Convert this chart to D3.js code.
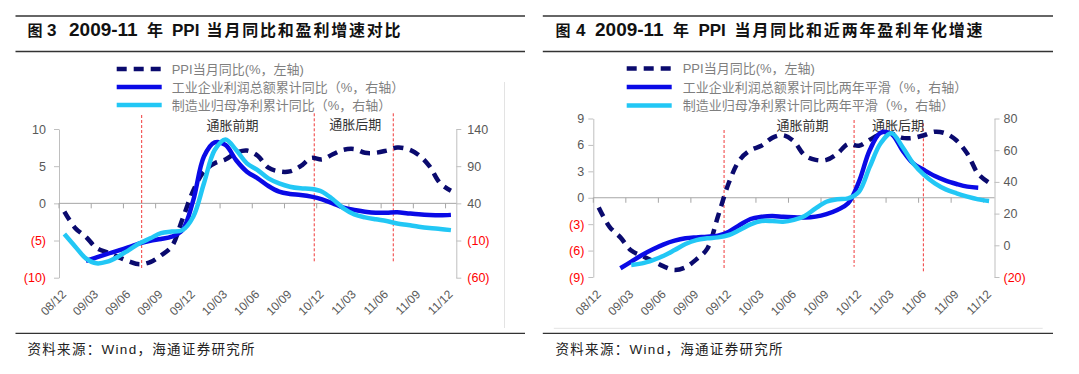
<!DOCTYPE html>
<html><head><meta charset="utf-8">
<script src="https://cdn.jsdelivr.net/npm/d3@7"></script>
<style>
body{margin:0;background:#fff;}
svg text{font-family:"Liberation Sans", Arial, "Noto Sans CJK SC", sans-serif;}
</style></head><body>
<svg id="c" width="1079" height="374"></svg>
<script>
// ---------------- DATA ----------------
const months = ["08/12","09/01","09/02","09/03","09/04","09/05","09/06","09/07","09/08","09/09","09/10","09/11","09/12",
  "10/01","10/02","10/03","10/04","10/05","10/06","10/07","10/08","10/09","10/10","10/11","10/12",
  "11/01","11/02","11/03","11/04","11/05","11/06","11/07","11/08","11/09","11/10","11/11","11/12"];
const tickLabels = ["08/12","09/03","09/06","09/09","09/12","10/03","10/06","10/09","10/12","11/03","11/06","11/09","11/12"];

// PPI YoY (%, left axis) - both charts
const ppi = [-1.1,-3.3,-4.5,-6.0,-6.6,-7.2,-7.8,-8.2,-7.9,-7.0,-5.8,-2.1,1.7,
  4.3,5.4,5.9,6.8,7.1,6.4,4.8,4.3,4.3,5.0,6.1,5.9,
  6.6,7.2,7.3,6.8,6.8,7.1,7.5,7.3,6.5,5.0,2.7,1.7];
// Fig 3 (right axis)
const profitYoY = [null,null,-37.5,-32.6,-28,-23.7,-19,-13.8,-10.2,-8,-4.8,4,44,
  103,122,118.5,98,82.6,73.6,63.3,55.7,52.6,51.2,49,45.4,
  40,34.2,31,28.8,27.4,27.4,27.9,26.5,25.2,24.3,23.9,24.5];
const mfgNetYoY = [-1.3,-18,-34,-40.7,-38.5,-31.7,-22.8,-13.8,-7,0,2,4,22,
  67,111.7,126,111.7,93.8,84.8,73.6,66.9,62.4,60.2,59.3,55.7,
  45.4,33.3,25.2,21.2,18.5,16.2,13,10.9,8.6,6.8,5.5,4];
// Fig 4 (right axis)
const profit2Y = [null,null,-14.5,-10.3,-6.1,-2.5,0.6,2.9,4.4,5,5.4,6.1,8.6,
  12.8,16.6,18,18.5,18,17.7,17.5,18.1,19.7,22.3,26.5,40.1,
  60.1,71,70.2,60.1,51.7,47.5,43.7,40.8,38.7,37,36.3,null];
const mfgNet2Y = [null,null,null,-12.4,-11.4,-9.3,-6.6,-3,0.8,3.3,4.4,5,6.5,
  9.7,13.2,15.3,15.3,14.9,16,18.5,23.3,27.5,29,29.6,33.8,
  49.6,64.4,70.7,62.2,51.7,44.4,39.1,35.3,32.8,30.7,29,28];

const leftTicksA = [10,5,0,-5,-10];
const rightTicksA = [140,90,40,-10,-60];
const leftTicksB = [9,6,3,0,-3,-6,-9];
const rightTicksB = [80,60,40,20,0,-20];
const phaseLabels = ["通胀前期","通胀后期"];
const legendA = ["PPI当月同比(%，左轴)","工业企业利润总额累计同比（%，右轴）","制造业归母净利累计同比（%，右轴）"];
const legendB = ["PPI当月同比(%，左轴)","工业企业利润总额累计同比两年平滑（%，右轴）","制造业归母净利累计同比两年平滑（%，右轴）"];
const source = "资料来源：Wind，海通证券研究所";

// ---------------- STYLE / LAYOUT ----------------
const C_PPI = "#0a0a6e", C_BLUE = "#0a0ae6", C_CYAN = "#22c7f5";
const svg = d3.select("#c");
const fmt = v => v < 0 ? `(${-v})` : `${v}`;

const panels = [
  { frame:[15.5,525],
    title:[{t:"图",x:27.5,fs:15},{t:"3",x:47,fs:17},{t:"2009-11",x:69,fs:19},{t:"年",x:147,fs:16},{t:"PPI",x:172,fs:17},{t:"当月同比和盈利增速对比",x:206.6,w:194,fs:16}],
    legend:legendA, legX:[116.7,161.7,171.7], legY:[69,87,105],
    x0:59, x1:456.3, yTop:129, yBot:277.7, yLdom:[-10,10], yRdom:[-60,140],
    lt:leftTicksA, rt:rightTicksA, lpad:8, rpad:6, labDx:2.5,
    s1:profitYoY, s2:mfgNetYoY,
    markers:[{m:7.7,y:[115,268]},{m:23.77,y:[113.3,263.3]},{m:31.13,y:[113.3,263.3]}],
    phases:[{m:16.15,y:124},{m:27.6,y:123.5}],
    srcX:27.5, faintV:504.5 },
  { frame:[542.8,1053],
    title:[{t:"图",x:555.5,fs:15},{t:"4",x:576,fs:17},{t:"2009-11",x:595,fs:19},{t:"年",x:673,fs:16},{t:"PPI",x:698.4,fs:17},{t:"当月同比和近两年盈利年化增速",x:734.6,w:248,fs:16}],
    legend:legendB, legX:[626.7,671.7,682.7], legY:[68.5,87,105.5],
    x0:593.3, x1:994.5, yTop:118.5, yBot:277, yLdom:[-9,9], yRdom:[-20,80],
    lt:leftTicksB, rt:rightTicksB, lpad:4, rpad:4, labDx:3,
    s1:profit2Y, s2:mfgNet2Y,
    markers:[{m:12.06,y:[130,268.3]},{m:24.05,y:[120,266.7]},{m:30.44,y:[123.3,273.3]}],
    phases:[{m:19.3,y:124},{m:28.1,y:124}],
    srcX:555.5, faintH:[553.8,1042.7,328.3] }
];

panels.forEach(p => {
  const g = svg.append("g");
  // frame lines
  [16, 51.5, 333.3].forEach(y => g.append("line").attr("x1",p.frame[0]).attr("x2",p.frame[1])
    .attr("y1",y).attr("y2",y).attr("stroke","#333").attr("stroke-width",1.3));
  if (p.faintV) g.append("line").attr("x1",p.faintV).attr("x2",p.faintV).attr("y1",82).attr("y2",328)
    .attr("stroke","#e3e3e3").attr("stroke-width",1);
  if (p.faintH) g.append("line").attr("x1",p.faintH[0]).attr("x2",p.faintH[1]).attr("y1",p.faintH[2]).attr("y2",p.faintH[2])
    .attr("stroke","#e3e3e3").attr("stroke-width",1);

  // title
  p.title.forEach(s => {
    const isCJK = /[\u4e00-\u9fff]/.test(s.t);
    const t = g.append("text").attr("x",s.x).attr("y",35.5).text(s.t)
      .attr("font-weight","bold").attr("fill","#111")
      .attr("font-size", s.fs)
      .style("font-family", isCJK ? '"Noto Sans CJK SC", sans-serif' : '"Liberation Sans", Arial, sans-serif');
    if (s.w) t.attr("textLength", s.w).attr("lengthAdjust","spacing");
  });

  // source
  g.append("text").attr("x",p.srcX).attr("y",354).text(source)
    .attr("font-size",13.5).attr("fill","#222").style("letter-spacing","1.3px");

  // scales
  const x = d3.scaleBand().domain(months).range([p.x0,p.x1]).padding(0);
  const bw = x.bandwidth();
  const xm = d3.scaleLinear().domain([0, months.length]).range([p.x0,p.x1]);
  const yL = d3.scaleLinear().domain(p.yLdom).range([p.yBot,p.yTop]);
  const yR = d3.scaleLinear().domain(p.yRdom).range([p.yBot,p.yTop]);

  // axes
  const ax = g.append("g").attr("transform",`translate(${p.x0},0)`)
    .call(d3.axisLeft(yL).tickValues(p.lt).tickSize(5).tickSizeOuter(0).tickPadding(p.lpad).tickFormat(fmt));
  const ar = g.append("g").attr("transform",`translate(${p.x1},0)`)
    .call(d3.axisRight(yR).tickValues(p.rt).tickSize(5).tickSizeOuter(0).tickPadding(p.rpad).tickFormat(fmt));
  [ax,ar].forEach(a => {
    a.select(".domain").attr("stroke","#bfbfbf");
    a.selectAll(".tick line").attr("stroke","#bfbfbf");
    a.selectAll(".tick text").attr("font-size",12.5)
      .style("font-family",'"Liberation Sans", Arial, sans-serif')
      .attr("fill", d => d < 0 ? "#ff0000" : "#595959");
  });

  // zero line & x ticks
  const y0 = yL(0);
  g.append("line").attr("x1",p.x0).attr("x2",p.x1).attr("y1",y0).attr("y2",y0)
    .attr("stroke","#a6a6a6").attr("stroke-width",1);
  g.selectAll(null).data(tickLabels).enter().append("line")
    .attr("x1",d => x(d)).attr("x2",d => x(d)).attr("y1",y0).attr("y2",y0+5)
    .attr("stroke","#a6a6a6");
  g.selectAll(null).data(tickLabels).enter().append("text")
    .attr("transform",d => `translate(${x(d)+bw/2+p.labDx},295) rotate(-45)`)
    .attr("text-anchor","end").attr("font-size",12).attr("fill","#595959").text(d => d);

  // red markers
  g.selectAll(null).data(p.markers).enter().append("line")
    .attr("x1",d => xm(d.m)).attr("x2",d => xm(d.m)).attr("y1",d => d.y[0]).attr("y2",d => d.y[1])
    .attr("stroke","#f03a3a").attr("stroke-width",1).attr("stroke-dasharray","3,2");
  // phase labels
  g.selectAll(null).data(p.phases).enter().append("text")
    .attr("x",d => xm(d.m)).attr("y",d => d.y).attr("text-anchor","middle").attr("dominant-baseline","central")
    .attr("font-size",13).attr("fill","#333")
    .style("font-family",'"Noto Sans CJK SC", sans-serif')
    .text((d,i) => phaseLabels[i]);

  // lines
  const mk = (vals, ys) => d3.line().defined(d => d.v != null)
    .x(d => x(d.m)+bw/2).y(d => ys(d.v)).curve(d3.curveCatmullRom.alpha(0.5))(months.map((m,i) => ({m, v: vals[i]})));
  g.append("path").attr("d", mk(ppi, yL)).attr("fill","none").attr("stroke",C_PPI)
    .attr("stroke-width",4.5).attr("stroke-dasharray","10,7");
  g.append("path").attr("d", mk(p.s1, yR)).attr("fill","none").attr("stroke",C_BLUE).attr("stroke-width",4.5);
  g.append("path").attr("d", mk(p.s2, yR)).attr("fill","none").attr("stroke",C_CYAN).attr("stroke-width",4.5);

  // legend
  const cols = [C_PPI, C_BLUE, C_CYAN];
  p.legend.forEach((lab,i) => {
    const l = g.append("line").attr("x1",p.legX[0]).attr("x2",p.legX[1]).attr("y1",p.legY[i]).attr("y2",p.legY[i])
      .attr("stroke",cols[i]).attr("stroke-width",4.5);
    if (i === 0) l.attr("stroke-dasharray","10,7");
    g.append("text").attr("x",p.legX[2]).attr("y",p.legY[i]).attr("dominant-baseline","central")
      .attr("font-size",13).attr("fill","#7f7f7f").text(lab);
  });
});
</script>
</body></html>
